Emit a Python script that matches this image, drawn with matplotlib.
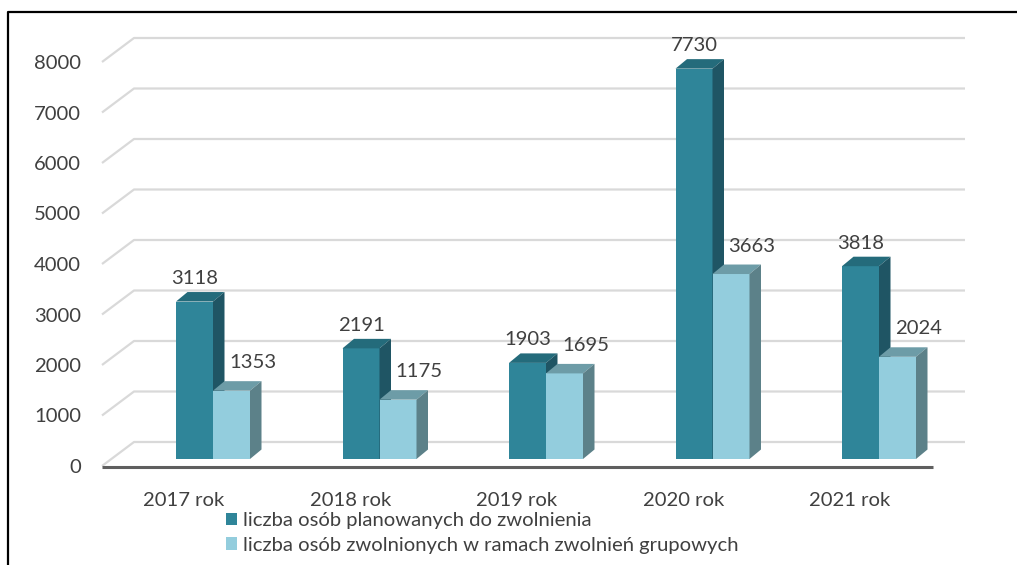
"""Zwolnienia grupowe 2017-2021 - wykres slupkowy w stylu 3D (Excel)."""
import matplotlib

matplotlib.use("Agg")
import matplotlib.pyplot as plt
from matplotlib.lines import Line2D
from matplotlib.patches import Patch, Polygon

# --- data -------------------------------------------------------------------
years = ["2017 rok", "2018 rok", "2019 rok", "2020 rok", "2021 rok"]
planned = [3118, 2191, 1903, 7730, 3818]
dismissed = [1353, 1175, 1695, 3663, 2024]
series_names = [
    "liczba osób planowanych do zwolnienia",
    "liczba osób zwolnionych w ramach zwolnień grupowych",
]
y_ticks = [0, 1000, 2000, 3000, 4000, 5000, 6000, 7000, 8000]

# --- layout (figure is 1017 x 565 px) ----------------------------------------
W, H = 1017, 565
PX_PER_CAT = 166.5      # px between categories
PX_PER_VAL = 0.0505     # px per unit of value
X0_PX, Y0_PX = 184, 466  # pixel of category 0 / value 0 on the front plane


def dx(px):
    return px / PX_PER_CAT


def dy(px):
    return px / PX_PER_VAL


TEXT = "#404040"
GRID = "#d9d9d9"
DARK = ("#2f8599", "#246b7b", "#1f5564")   # front, top, side
LIGHT = ("#93cddd", "#6d9ca7", "#5c8189")

plt.rcParams["font.family"] = ["Lato", "DejaVu Sans"]
FS = 14.6

fig = plt.figure(figsize=(W / 100, H / 100), dpi=100)
ax = fig.add_axes([0, 0, 1, 1])
ax.set_xlim(-X0_PX / PX_PER_CAT, (W - X0_PX) / PX_PER_CAT)
ax.set_ylim((Y0_PX - H) / PX_PER_VAL, Y0_PX / PX_PER_VAL)
ax.axis("off")

# walls: depth offset of the box
DX, DY = dx(32), dy(24)
x_left = dx(102 - X0_PX)
x_back_right = dx(965 - X0_PX)
x_front_right = dx(933 - X0_PX)

for t in y_ticks:
    ax.plot([x_left, x_left + DX, x_back_right], [t, t + DY, t + DY],
            color=GRID, lw=1.6, zorder=1, solid_capstyle="butt")
    ax.text(dx(81 - X0_PX), t - dy(1.5), f"{t}", ha="right", va="center",
            fontsize=FS, color=TEXT)

ax.plot([x_left, x_front_right], [dy(-1), dy(-1)], color="#5f5f5f", lw=2.2,
        zorder=2, solid_capstyle="butt")

# bars
bw = dx(37)
bdx, bdy = dx(11.5), dy(9.5)
base = dy(7)


def draw_bar(x0, value, colors, z):
    front, top, side = colors
    x1 = x0 + bw
    ytop = base + value
    ax.bar(x0, value, width=bw, bottom=base, align="edge", color=front,
           edgecolor="none", zorder=z)
    ax.add_patch(Polygon([(x0, ytop), (x1, ytop), (x1 + bdx, ytop + bdy),
                          (x0 + bdx, ytop + bdy)], closed=True,
                         facecolor=top, edgecolor="none", zorder=z))
    ax.add_patch(Polygon([(x1, base), (x1, ytop), (x1 + bdx, ytop + bdy),
                          (x1 + bdx, base + bdy)], closed=True,
                         facecolor=side, edgecolor="none", zorder=z))


for i, (p, d) in enumerate(zip(planned, dismissed)):
    gc = i + dx(29)
    draw_bar(gc - bw, p, DARK, 3)
    draw_bar(gc, d, LIGHT, 4)
    ax.text(gc - bw / 2, base + p + dy(23), f"{p}", ha="center", va="center",
            fontsize=FS, color=TEXT, zorder=6)
    ax.text(gc + bw / 2 + dx(21), base + d + dy(28), f"{d}", ha="center",
            va="center", fontsize=FS, color=TEXT, zorder=6)

for i, lab in enumerate(years):
    ax.text(i, dy(-34), lab, ha="center", va="center", fontsize=FS, color=TEXT)

handles = [Patch(facecolor=DARK[0]), Patch(facecolor=LIGHT[0])]
fig.legend(handles, series_names, loc="upper left",
           bbox_to_anchor=(226 / W, 1 - 512 / H), frameon=False, fontsize=FS,
           handlelength=0.55, handleheight=0.55, handletextpad=0.3,
           labelspacing=0.38, borderpad=0, borderaxespad=0, labelcolor=TEXT)

# outer frame (cut off at right and bottom)
fig.add_artist(Line2D([8 / W, 8 / W, 1.0], [0.0, 1 - 12 / H, 1 - 12 / H],
                      color="black", lw=1.6, transform=fig.transFigure))

fig.savefig("out.png", dpi=100)
